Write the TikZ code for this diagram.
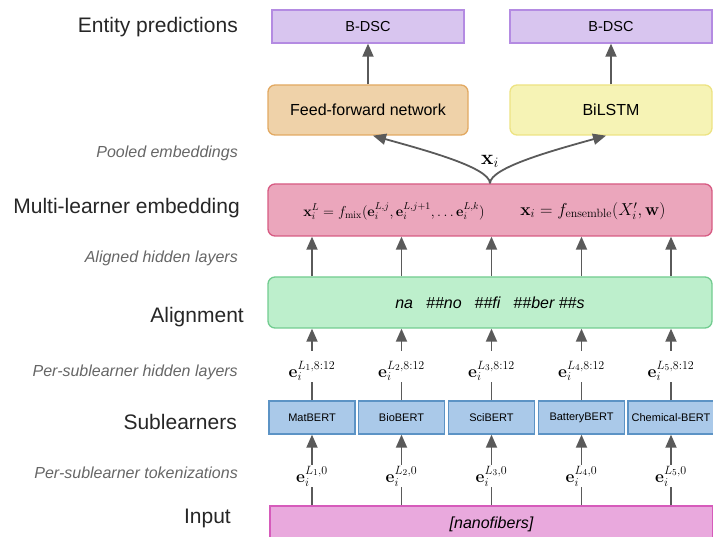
\documentclass[tikz,border=0pt]{standalone}
\usepackage[no-math]{fontspec}
\setmainfont{Liberation Sans}
\usetikzlibrary{arrows.meta,positioning}

\definecolor{predfill}{HTML}{D8C5EF}
\definecolor{preddraw}{HTML}{B48BE2}
\definecolor{ffnfill}{HTML}{EFD2A9}
\definecolor{ffndraw}{HTML}{E2A962}
\definecolor{lstmfill}{HTML}{F6F3B5}
\definecolor{lstmdraw}{HTML}{EDE383}
\definecolor{mlefill}{HTML}{EBA6BC}
\definecolor{mledraw}{HTML}{D75B83}
\definecolor{alignfill}{HTML}{BDEFCC}
\definecolor{aligndraw}{HTML}{72CC90}
\definecolor{subfill}{HTML}{AAC9E9}
\definecolor{subdraw}{HTML}{5C93C5}
\definecolor{inpfill}{HTML}{E9A9DD}
\definecolor{inpdraw}{HTML}{D65BBB}
\definecolor{arrgray}{HTML}{5A5A5A}
\definecolor{notegray}{HTML}{666666}

\tikzset{
  stage/.style={anchor=east, inner sep=0pt, text=black!85, font=\fontsize{21}{25}\selectfont},
  note/.style={anchor=east, inner sep=0pt, text=notegray, font=\fontsize{16}{19}\selectfont\itshape},
  box/.style={draw, line width=1.3pt, inner sep=0pt, align=center},
  roundbox/.style={box, rounded corners=7pt},
  arr/.style={draw=arrgray, line width=1.8pt, -{Triangle[width=11pt,length=13pt]}},
  link/.style={draw=arrgray, line width=1.8pt},
  emb/.style={inner sep=1pt, font=\fontsize{17.5}{21}\selectfont},
}

\begin{document}
\begin{tikzpicture}[x=1pt,y=-1pt]
  \useasboundingbox (0,0) rectangle (713,537);

  % stage labels
  \node[stage] (lpred) at (238,27) {Entity predictions};
  \node[note] (lpool) at (238,153) {Pooled embeddings};
  \node[stage] (lmle) at (240,208) {Multi-learner embedding};
  \node[note] (lalhid) at (238,258) {Aligned hidden layers};
  \node[stage] (lalign) at (244,317) {Alignment};
  \node[note] (lsubhid) at (238,372) {Per-sublearner hidden layers};
  \node[stage] (lsub) at (237,422) {Sublearners};
  \node[note] (ltok) at (238,473) {Per-sublearner tokenizations};
  \node[stage] (linput) at (231,518) {Input};

  % prediction heads
  \node[box, fill=predfill, draw=preddraw, minimum width=192pt, minimum height=33pt,
        font=\fontsize{14.5}{17}\selectfont] (pred1) at (368,26.5) {B-DSC};
  \node[box, fill=predfill, draw=preddraw, minimum width=202pt, minimum height=33pt,
        font=\fontsize{14.5}{17}\selectfont] (pred2) at (611,26.5) {B-DSC};
  \node[roundbox, fill=ffnfill, draw=ffndraw, minimum width=200pt, minimum height=50pt,
        font=\fontsize{16}{19}\selectfont] (ffn) at (368,110) {Feed-forward network};
  \node[roundbox, fill=lstmfill, draw=lstmdraw, minimum width=202pt, minimum height=50pt,
        font=\fontsize{16}{19}\selectfont] (lstm) at (611,110) {BiLSTM};

  % ensemble and alignment
  \node[roundbox, fill=mlefill, draw=mledraw, minimum width=444pt, minimum height=52pt] (mle) at (490,210) {};
  \node[inner sep=0pt, font=\fontsize{14}{17}\selectfont] (fmix) at (394,211)
    {$\mathbf{x}_i^L = f_{\mathrm{mix}}(\mathbf{e}_i^{L,j}, \mathbf{e}_i^{L,j+1}, \ldots \mathbf{e}_i^{L,k})$};
  \node[inner sep=0pt, font=\fontsize{17}{20}\selectfont] (fens) at (593,211)
    {$\mathbf{x}_i = f_{\mathrm{ensemble}}(X_i', \mathbf{w})$};
  \node[roundbox, fill=alignfill, draw=aligndraw, minimum width=444pt, minimum height=51pt,
        font=\fontsize{16}{19}\selectfont\itshape] (align) at (490,302.5)
    {na\hspace{13pt}\#\#no\hspace{13pt}\#\#fi\hspace{13pt}\#\#ber \#\#s};

  % input
  \node[box, fill=inpfill, draw=inpdraw, minimum width=443pt, minimum height=36pt,
        font=\fontsize{16}{19}\selectfont\itshape] (input) at (491.5,524) {[nanofibers]};

  % sublearners
  \foreach \i/\x/\name in {1/312/MatBERT, 2/401.5/BioBERT, 3/491.5/SciBERT,
                           4/581.5/BatteryBERT, 5/671/Chemical-BERT} {
    \node[box, fill=subfill, draw=subdraw, minimum width=86pt, minimum height=33pt,
          font=\fontsize{11}{13}\selectfont] (sub\i) at (\x,417.5) {\name};
    \node[emb] (hid\i) at (\x,371) {$\mathbf{e}_i^{L_\i,8:12}$};
    \node[emb] (tok\i) at (\x,476) {$\mathbf{e}_i^{L_\i,0}$};
    \draw[link] (input.north -| tok\i) -- (tok\i);
    \draw[arr] (tok\i) -- (sub\i);
    \draw[link] (sub\i) -- (hid\i);
    \draw[arr, shorten <=9pt] (hid\i) -- (hid\i |- align.south);
    \draw[arr] (align.north -| hid\i) -- (mle.south -| hid\i);
  }

  % pooled embedding
  \node[font=\fontsize{21}{24}\selectfont] (xi) at (490,161) {$\mathbf{x}_i$};
  \draw[arr] (mle.north) .. controls +(0,-16) and +(50,14) .. ([xshift=5pt]ffn.south);
  \draw[arr] (mle.north) .. controls +(0,-16) and +(-50,14) .. ([xshift=-5pt]lstm.south);
  \draw[arr] (ffn) -- (pred1);
  \draw[arr] (lstm.north -| pred2) -- (pred2);
\end{tikzpicture}
\end{document}
